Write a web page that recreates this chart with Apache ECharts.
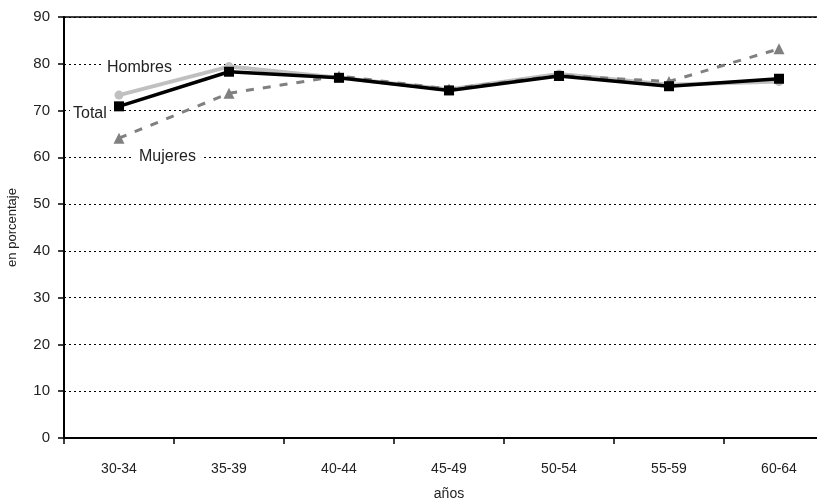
<!DOCTYPE html>
<html><head><meta charset="utf-8">
<script src="https://cdn.jsdelivr.net/npm/echarts@6/dist/echarts.min.js"></script>
<style>html,body{margin:0;padding:0;background:#fff}#c{width:817px;height:500px}</style>
</head><body><div id="c"></div>
<script>
var categories = ['30-34','35-39','40-44','45-49','50-54','55-59','60-64'];
var hombres = [73.3, 79.4, 77.0, 74.5, 77.8, 75.5, 76.2];
var mujeres = [64.1, 73.7, 77.4, 74.6, 77.5, 76.2, 83.2];
var total   = [70.9, 78.3, 77.0, 74.3, 77.4, 75.2, 76.8];
var yTicks = [0,10,20,30,40,50,60,70,80,90];

var chart = echarts.init(document.getElementById('c'));
var narrow = "'Liberation Sans Narrow','Liberation Sans',Arial,sans-serif";
var lab = "16px 'Liberation Sans',Arial,sans-serif";
chart.setOption({
  animation:false,
  backgroundColor:'#fff',
  grid:{left:64, top:17, width:770, height:421, outerBoundsMode:'none', containLabel:false,
        show:true, borderColor:'#000', borderWidth:1.5, backgroundColor:'transparent'},
  xAxis:{type:'category', data:categories, boundaryGap:true,
    name:'años', nameLocation:'middle', nameGap:49,
    nameTextStyle:{fontFamily:narrow, fontSize:14, color:'#222'},
    axisLine:{lineStyle:{color:'#000', width:2}},
    axisTick:{show:true, length:6, lineStyle:{color:'#000', width:1.5}},
    axisLabel:{fontFamily:narrow, fontSize:14, color:'#222', margin:24},
    splitLine:{show:false}},
  yAxis:{type:'value', min:yTicks[0], max:yTicks[yTicks.length-1], interval:10,
    name:'en porcentaje', nameLocation:'middle', nameGap:45, nameRotate:90,
    nameTextStyle:{fontFamily:"'Liberation Sans',Arial,sans-serif", fontSize:13, color:'#222'},
    axisLine:{show:true, lineStyle:{color:'#000', width:2}},
    axisTick:{show:true, length:6, lineStyle:{color:'#000', width:1.5}},
    axisLabel:{fontFamily:narrow, fontSize:15, color:'#222', margin:14},
    splitLine:{show:true, lineStyle:{color:'#000', type:[2,3], width:1.2}}},
  series:[
    {name:'Hombres', type:'line', data:hombres, symbol:'circle', symbolSize:9,
     lineStyle:{color:'#c0c0c0', width:4}, itemStyle:{color:'#c0c0c0'}, z:2},
    {name:'Mujeres', type:'line', data:mujeres, symbol:'triangle', symbolSize:11,
     lineStyle:{color:'#808080', width:3, type:[8,9]}, itemStyle:{color:'#808080'}, z:3},
    {name:'Total', type:'line', data:total, symbol:'rect', symbolSize:10,
     lineStyle:{color:'#000', width:3.5}, itemStyle:{color:'#000'}, z:4}
  ],
  graphic:[
    {type:'text', left:102, top:60, z:10, style:{text:'Hombres', font:lab, fill:'#222', backgroundColor:'#fff', padding:[0,5]}},
    {type:'text', left:70, top:106, z:10, style:{text:'Total', font:lab, fill:'#222', backgroundColor:'#fff', padding:[0,3]}},
    {type:'text', left:134, top:149, z:10, style:{text:'Mujeres', font:lab, fill:'#222', backgroundColor:'#fff', padding:[0,5]}}
  ]
});
</script></body></html>
